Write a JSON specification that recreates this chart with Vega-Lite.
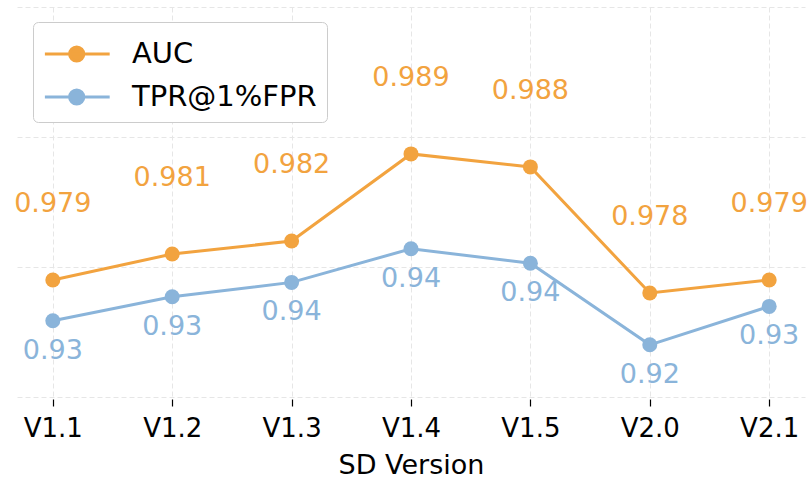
{
  "$schema": "https://vega.github.io/schema/vega-lite/v6.json",
  "width": 788,
  "height": 392,
  "autosize": {"type": "none"},
  "padding": {"left": 17, "top": 7, "right": 4, "bottom": 79},
  "background": "white",
  "config": {
    "font": "DejaVu Sans",
    "view": {"stroke": null},
    "axis": {"gridColor": "#e6e6e6", "gridDash": [5, 3], "gridWidth": 1}
  },
  "data": {
    "values": [
      {"version": "V1.1", "metric": "AUC", "value": 0.979},
      {"version": "V1.2", "metric": "AUC", "value": 0.981},
      {"version": "V1.3", "metric": "AUC", "value": 0.982},
      {"version": "V1.4", "metric": "AUC", "value": 0.9887},
      {"version": "V1.5", "metric": "AUC", "value": 0.9877},
      {"version": "V2.0", "metric": "AUC", "value": 0.978},
      {"version": "V2.1", "metric": "AUC", "value": 0.979},
      {"version": "V1.1", "metric": "TPR@1%FPR", "value": 0.929},
      {"version": "V1.2", "metric": "TPR@1%FPR", "value": 0.934},
      {"version": "V1.3", "metric": "TPR@1%FPR", "value": 0.937},
      {"version": "V1.4", "metric": "TPR@1%FPR", "value": 0.944},
      {"version": "V1.5", "metric": "TPR@1%FPR", "value": 0.941},
      {"version": "V2.0", "metric": "TPR@1%FPR", "value": 0.924},
      {"version": "V2.1", "metric": "TPR@1%FPR", "value": 0.932}
    ]
  },
  "encoding": {
    "x": {
      "field": "version",
      "type": "ordinal",
      "scale": {"type": "point", "padding": 0.3},
      "axis": {
        "title": "SD Version",
        "titleFontSize": 27,
        "titleFontWeight": "normal",
        "titleColor": "black",
        "titlePadding": 11,
        "labelFontSize": 26,
        "labelColor": "black",
        "labelAngle": 0,
        "labelPadding": 9,
        "tickColor": "black",
        "tickSize": 7,
        "tickWidth": 1.2,
        "domain": false,
        "grid": true
      }
    },
    "color": {
      "field": "metric",
      "type": "nominal",
      "scale": {"domain": ["AUC", "TPR@1%FPR"], "range": ["#F2A33F", "#8AB4DA"]},
      "legend": {
        "title": null,
        "orient": "none",
        "legendX": 16,
        "legendY": 15,
        "labelFontSize": 29,
        "labelColor": "black",
        "labelLimit": 500,
        "symbolType": "M-0.99,0H2.2M0.926,0A0.35,0.35 0 1,1 0.226,0A0.35,0.35 0 1,1 0.926,0Z",
        "symbolSize": 1650,
        "symbolStrokeWidth": 3,
        "labelOffset": 45,
        "rowPadding": 6,
        "padding": 10,
        "strokeColor": "#cccccc",
        "fillColor": "white",
        "cornerRadius": 5,
        "encode": {
          "symbols": {"update": {"fill": {"scale": "color", "field": "value"}, "fillOpacity": {"value": 1}}}
        }
      }
    }
  },
  "layer": [
    {
      "transform": [{"filter": "datum.metric === 'AUC'"}],
      "encoding": {
        "y": {
          "field": "value",
          "type": "quantitative",
          "scale": {"domain": [0.96985, 1.0], "zero": false, "nice": false},
          "axis": {"values": [0.97, 0.98, 0.99, 1.0], "labels": false, "ticks": false, "domain": false, "title": null, "grid": true}
        }
      },
      "layer": [
        {"mark": {"type": "line", "strokeWidth": 3}},
        {"mark": {"type": "point", "filled": true, "size": 225, "opacity": 1, "shape": "circle"}},
        {
          "mark": {"type": "text", "dy": -76, "fontSize": 27, "baseline": "middle", "align": "center"},
          "encoding": {"text": {"field": "value", "type": "quantitative", "format": ".3f"}}
        }
      ]
    },
    {
      "transform": [{"filter": "datum.metric === 'TPR@1%FPR'"}],
      "encoding": {
        "y": {
          "field": "value",
          "type": "quantitative",
          "scale": {"domain": [0.91271, 0.99437], "zero": false, "nice": false},
          "axis": null
        }
      },
      "layer": [
        {"mark": {"type": "line", "strokeWidth": 3}},
        {"mark": {"type": "point", "filled": true, "size": 225, "opacity": 1, "shape": "circle"}},
        {
          "mark": {"type": "text", "dy": 30, "fontSize": 27, "baseline": "middle", "align": "center"},
          "encoding": {"text": {"field": "value", "type": "quantitative", "format": ".2f"}}
        }
      ]
    }
  ],
  "resolve": {"scale": {"y": "independent"}}
}
